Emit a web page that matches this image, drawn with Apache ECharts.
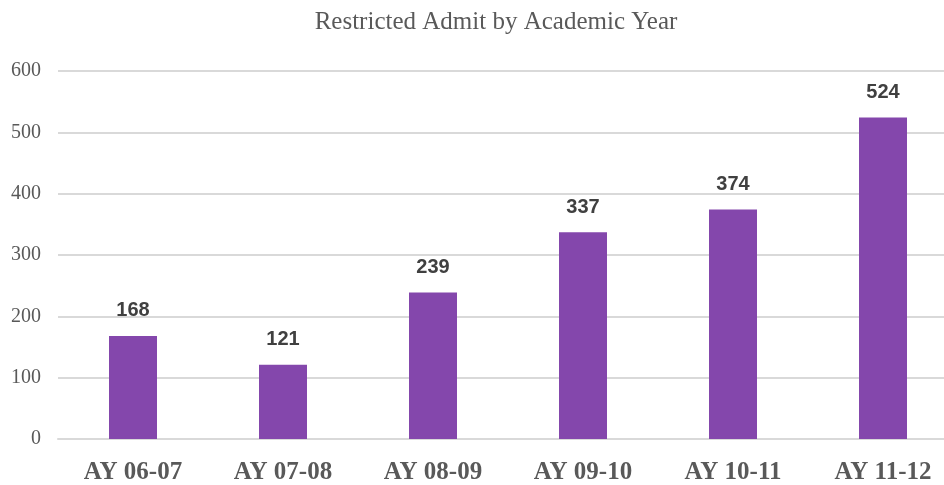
<!DOCTYPE html>
<html>
<head>
<meta charset="utf-8">
<script src="https://cdn.jsdelivr.net/npm/echarts@6/dist/echarts.min.js"></script>
<style>
  html, body { margin: 0; padding: 0; background: #fff; }
  #chart { width: 944px; height: 485px; }
</style>
</head>
<body>
<div id="chart"></div>
<script>
const years = ['AY 06-07', 'AY 07-08', 'AY 08-09', 'AY 09-10', 'AY 10-11', 'AY 11-12']
const admits = [168, 121, 239, 337, 374, 524]

const chart = echarts.init(document.getElementById('chart'))
chart.setOption({
  animation: false,
  title: {
    text: 'Restricted Admit by Academic Year',
    left: 491,
    textAlign: 'center',
    top: 5,
    textStyle: {
      fontFamily: 'Liberation Serif',
      fontWeight: 'normal',
      fontSize: 25,
      color: '#595959'
    }
  },
  grid: {
    left: 58,
    right: -14,
    top: 71,
    height: 368,
    outerBoundsMode: 'none'
  },
  xAxis: {
    type: 'category',
    data: years,
    axisTick: { show: false },
    axisLine: { lineStyle: { color: '#d9d9d9', width: 2 } },
    axisLabel: {
      margin: 21,
      fontFamily: 'Liberation Serif',
      fontWeight: 'bold',
      fontSize: 25,
      color: '#595959'
    }
  },
  yAxis: {
    type: 'value',
    min: 0,
    max: 600,
    interval: 100,
    axisLine: { show: false },
    axisTick: { show: false },
    splitLine: { lineStyle: { color: '#d9d9d9', width: 2 } },
    axisLabel: {
      margin: 17,
      fontFamily: 'Liberation Serif',
      fontSize: 20,
      color: '#595959'
    }
  },
  series: [
    {
      type: 'bar',
      data: admits,
      barWidth: 48,
      itemStyle: { color: '#8447ac' },
      label: {
        show: true,
        position: 'top',
        distance: 15,
        fontFamily: 'Liberation Sans',
        fontWeight: 'bold',
        fontSize: 20,
        color: '#404040'
      }
    }
  ]
})
</script>
</body>
</html>
